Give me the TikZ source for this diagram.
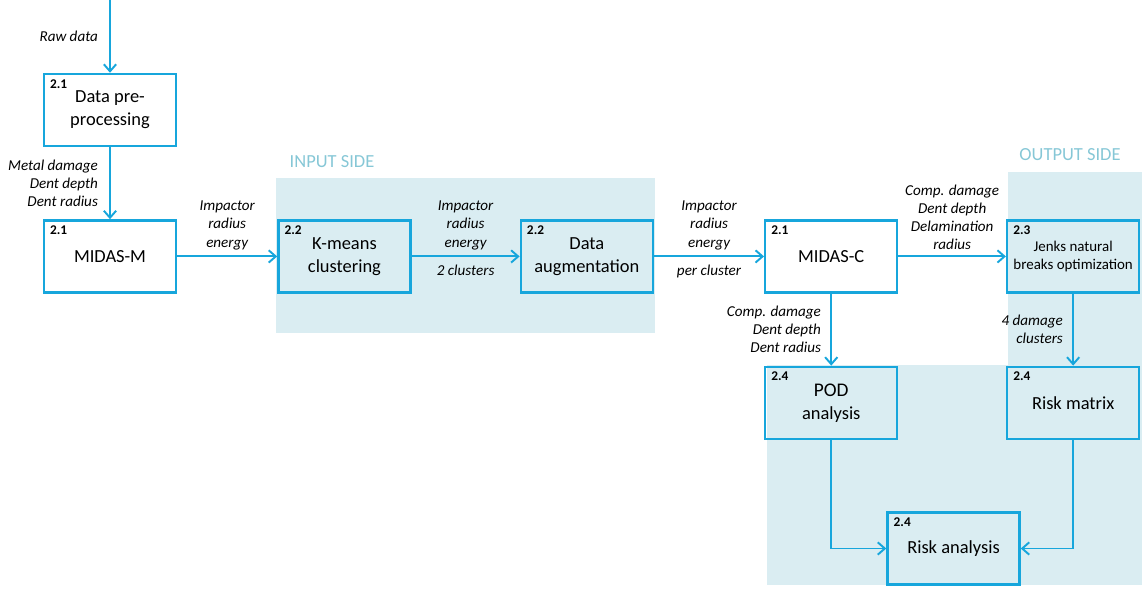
\documentclass[tikz,border=0pt]{standalone}
\usepackage{fontspec}
\setmainfont{Carlito}
\usetikzlibrary{
  arrows.meta,
  positioning,
  backgrounds
}
\definecolor{flowblue}{HTML}{17A6DC}
\definecolor{sidebg}{HTML}{DAEDF2}
\definecolor{sidetext}{HTML}{86C7D6}

\begin{document}
\begin{tikzpicture}[
      x=0.02cm, y=-0.02cm,
      proc/.style={
        rectangle, minimum width=2.64cm, minimum height=1.44cm,
        draw=flowblue, line width=1.4pt, align=center, inner sep=2pt,
        font=\fontsize{10.5}{13}\selectfont
      },
      tag/.style={anchor=north west, inner sep=1pt, xshift=3pt, yshift=-2.5pt,
        font=\fontsize{7.6}{9}\selectfont\bfseries},
      flow/.style={-{Straight Barb[length=4pt, width=7pt]}, line width=1.1pt, flowblue},
      lbl/.style={font=\fontsize{8.6}{10.3}\selectfont\itshape, align=center, text=black},
      side/.style={font=\fontsize{10.5}{12}\selectfont\color{sidetext}}
    ]
      \useasboundingbox (0,0) rectangle (1145,588);

      % Blocks
      \node[proc, label={[tag]north west:2.1}] (prep) at (110,110) {Data pre-\\processing};
      \node[proc, below=1.44cm of prep, label={[tag]north west:2.1}] (midasm) {MIDAS-M};
      \node[proc, right=2cm of midasm, label={[tag]north west:2.2}] (kmeans) {K-means\\clustering};
      \node[proc, right=2.16cm of kmeans, label={[tag]north west:2.2}] (augm) {Data\\augmentation};
      \node[proc, right=2.2cm of augm, label={[tag]north west:2.1}] (midasc) {MIDAS-C};
      \node[proc, right=2.15cm of midasc, label={[tag]north west:2.3},
        font=\fontsize{8.5}{10.6}\selectfont] (jenks) {Jenks natural\\breaks optimization};
      \node[proc, below=1.44cm of midasc, label={[tag]north west:2.4}] (pod)
        {{\fontsize{11}{13}\selectfont POD}\\analysis};
      \node[proc, below=1.44cm of jenks, label={[tag]north west:2.4}] (riskm) {Risk matrix};
      \node[proc, label={[tag]north west:2.4}] (riska) at (953.5,548.5) {Risk analysis};

      % Shaded sides
      \begin{scope}[on background layer]
        \fill[sidebg] (276,178) rectangle (655,333);
        \fill[sidebg] (1008,172) rectangle (1142,585);
        \fill[sidebg] (767,365) rectangle (1008,585);
      \end{scope}
      \node[side] (inside) at (332,162) {INPUT SIDE};
      \node[side] (outside) at (1070,155) {OUTPUT SIDE};

      % Flow arrows
      \coordinate (rawin) at (110,0);
      \draw[flow] (rawin) -- node[lbl, left=3pt] {Raw data} (prep);
      \draw[flow] (prep) -- node[lbl, left=3pt, align=right] {Metal damage\\Dent depth\\Dent radius} (midasm);
      \draw[flow] (midasm) -- node[lbl, above] {Impactor\\radius\\energy} (kmeans);
      \draw[flow] (kmeans) -- node[lbl, above] {Impactor\\radius\\energy}
        node[lbl, below=1pt] {2 clusters} (augm);
      \draw[flow] (augm) -- node[lbl, above] {Impactor\\radius\\energy}
        node[lbl, below=1pt] {per cluster} (midasc);
      \draw[flow] (midasc) -- node[lbl, above] {Comp. damage\\Dent depth\\Delamination\\radius} (jenks);
      \draw[flow] (midasc) -- node[lbl, left=2pt, align=right] {Comp. damage\\Dent depth\\Dent radius} (pod);
      \draw[flow] (jenks) -- node[lbl, left=2pt, align=right] {4 damage\\clusters} (riskm);
      \draw[flow] (pod.south) |- (riska.west);
      \draw[flow] (riskm.south) |- (riska.east);
    \end{tikzpicture}
\end{document}
